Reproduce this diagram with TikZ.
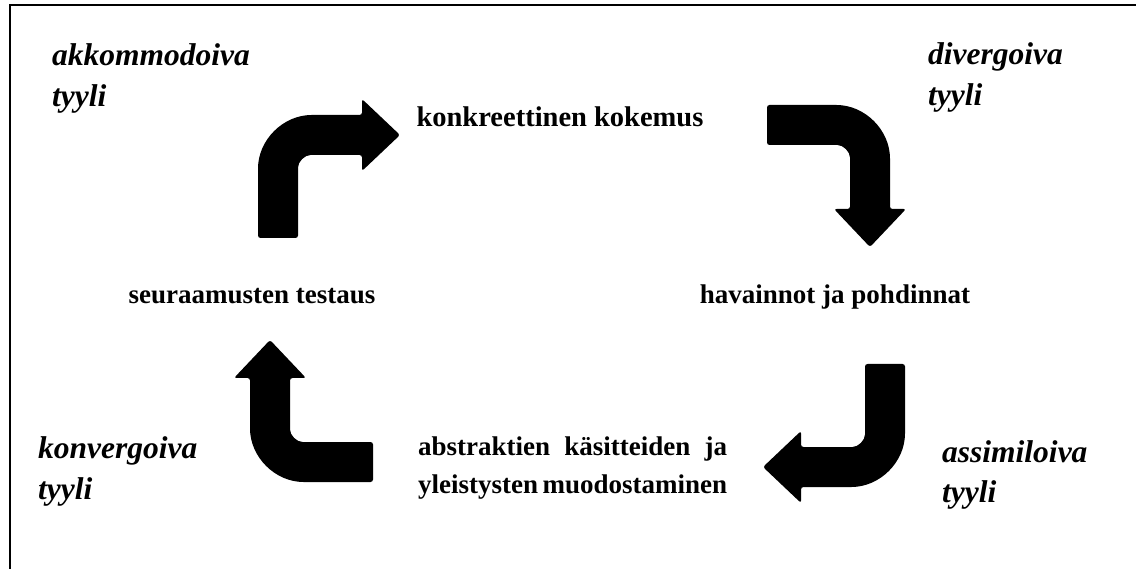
\documentclass[tikz,border=0pt]{standalone}
\usepackage{fontspec}
\setmainfont{Liberation Serif}
\begin{document}
\begin{tikzpicture}[x=1pt,y=1pt,
  style/.style={font=\bfseries\itshape\fontsize{31.5}{42}\selectfont, inner sep=0pt, anchor=base west},
  lbl/.style={font=\bfseries\fontsize{27}{38}\selectfont, inner sep=0pt, anchor=base},
  frame/.style={line width=2.2pt, black},
  bent/.pic={\fill[black, rounded corners=2.5pt] (0,-123) -- (0,-56) arc(180:90:56pt) -- (104,0) -- (104,16) -- (142,-20) -- (104,-56) -- (104,-40) -- (55,-40) arc(90:180:15pt) -- (40,-123) -- cycle;}
]
\useasboundingbox (0,0) rectangle (1136,-569);
% frame
\draw[frame] (9,-5) -- (1136,-5);
\draw[frame] (10,-5) -- (10,-569);
% arrows
\pic at (258,-115) {bent};
\pic[rotate=-90] at (890,-105) {bent};
\pic[rotate=180] at (905,-487) {bent};
\pic[rotate=90] at (250,-482) {bent};
% style labels
\node[style] (akk) at (52,-66) {akkommodoiva};
\node[style] (akk2) at (52,-107) {tyyli};
\node[style] (div) at (928,-65) {divergoiva};
\node[style] (div2) at (928,-106) {tyyli};
\node[style] (kon) at (38,-458) {konvergoiva};
\node[style] (kon2) at (38,-499) {tyyli};
\node[style] (ass) at (942,-462) {assimiloiva};
\node[style] (ass2) at (942,-502) {tyyli};
% stage labels
\node[lbl, font=\bfseries\fontsize{28.5}{38}\selectfont] (kk) at (560,-127) {konkreettinen kokemus};
\node[lbl] (hp) at (835,-304) {havainnot ja pohdinnat};
\node[lbl] (st) at (252,-304) {seuraamusten testaus};
\node[lbl, anchor=base west] (ab1) at (418,-455) {\makebox[309pt][s]{abstraktien käsitteiden ja}};
\node[lbl, anchor=base west] (ab2) at (418,-493) {\makebox[309pt][s]{yleistysten muodostaminen}};
\end{tikzpicture}
\end{document}
